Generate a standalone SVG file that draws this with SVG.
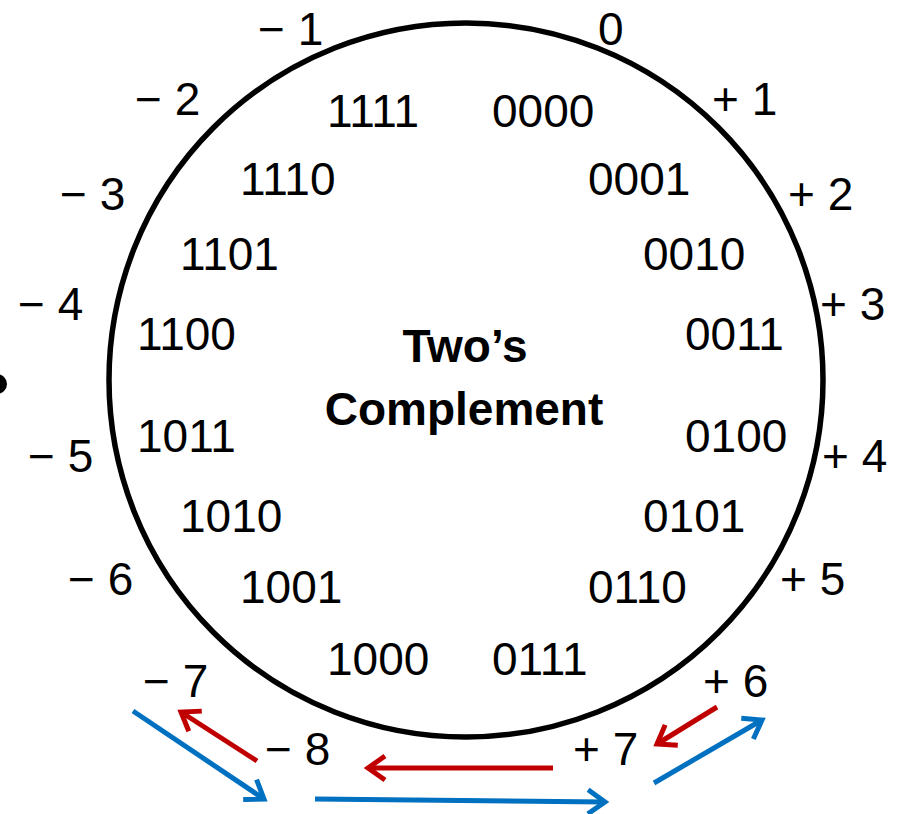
<svg xmlns="http://www.w3.org/2000/svg" width="897" height="814" viewBox="0 0 897 814">
<defs>
<style>
.t{font-family:"Liberation Sans",Arial,sans-serif;font-size:46px;fill:#000}
.c{font-family:"Liberation Sans",Arial,sans-serif;font-size:46px;font-weight:bold;fill:#000;text-anchor:middle}
.blue{stroke:#0070C0;stroke-width:5;fill:none}
.red{stroke:#C00000;stroke-width:5;fill:none}
</style>
<marker id="ab" markerUnits="userSpaceOnUse" viewBox="-24 -16 28 32" refX="0" refY="0" markerWidth="28" markerHeight="32" orient="auto" overflow="visible">
<path d="M-17,-12 L0,0 L-17,12" fill="none" stroke="#0070C0" stroke-width="5"/>
</marker>
<marker id="ar" markerUnits="userSpaceOnUse" viewBox="-24 -16 28 32" refX="0" refY="0" markerWidth="28" markerHeight="32" orient="auto" overflow="visible">
<path d="M-17,-12 L0,0 L-17,12" fill="none" stroke="#C00000" stroke-width="5"/>
</marker>
</defs>
<rect width="897" height="814" fill="#fff"/>
<circle cx="-3" cy="384" r="10" fill="#000"/>
<g id="ring"><circle cx="466" cy="380" r="357" fill="none" stroke="#000" stroke-width="5.5"/></g>
<g id="title"><text class="c" x="465" y="362">Two’s</text><text class="c" x="464" y="425">Complement</text></g>
<g id="binary">
<text class="t" x="327" y="127">1111</text>
<text class="t" x="492" y="127">0000</text>
<text class="t" x="240" y="195">1110</text>
<text class="t" x="588" y="195">0001</text>
<text class="t" x="180" y="270">1101</text>
<text class="t" x="643" y="270">0010</text>
<text class="t" x="137" y="350">1100</text>
<text class="t" x="685" y="350">0011</text>
<text class="t" x="137" y="452">1011</text>
<text class="t" x="685" y="452">0100</text>
<text class="t" x="180" y="532">1010</text>
<text class="t" x="643" y="532">0101</text>
<text class="t" x="240" y="603">1001</text>
<text class="t" x="588" y="603">0110</text>
<text class="t" x="327" y="675">1000</text>
<text class="t" x="492" y="675">0111</text>
</g>
<g id="decimal">
<text class="t" x="258" y="45">− 1</text>
<text class="t" x="598" y="45">0</text>
<text class="t" x="712" y="115">+ 1</text>
<text class="t" x="135" y="115">− 2</text>
<text class="t" x="60" y="210">− 3</text>
<text class="t" x="788" y="210">+ 2</text>
<text class="t" x="18" y="320">− 4</text>
<text class="t" x="820" y="320">+ 3</text>
<text class="t" x="28" y="472">− 5</text>
<text class="t" x="822" y="472">+ 4</text>
<text class="t" x="68" y="595">− 6</text>
<text class="t" x="780" y="595">+ 5</text>
<text class="t" x="143" y="697">− 7</text>
<text class="t" x="703" y="697">+ 6</text>
<text class="t" x="265" y="765">− 8</text>
<text class="t" x="573" y="765">+ 7</text>
</g>
<g id="connectors">
<line class="blue" x1="133" y1="711" x2="264" y2="799" marker-end="url(#ab)"/>
<line class="red" x1="257" y1="761" x2="181" y2="712" marker-end="url(#ar)"/>
<line class="red" x1="553" y1="768" x2="368" y2="768" marker-end="url(#ar)"/>
<line class="blue" x1="315" y1="799" x2="605" y2="802" marker-end="url(#ab)"/>
<line class="red" x1="717" y1="707" x2="657" y2="744" marker-end="url(#ar)"/>
<line class="blue" x1="654" y1="783" x2="762" y2="720" marker-end="url(#ab)"/>
</g>
</svg>
